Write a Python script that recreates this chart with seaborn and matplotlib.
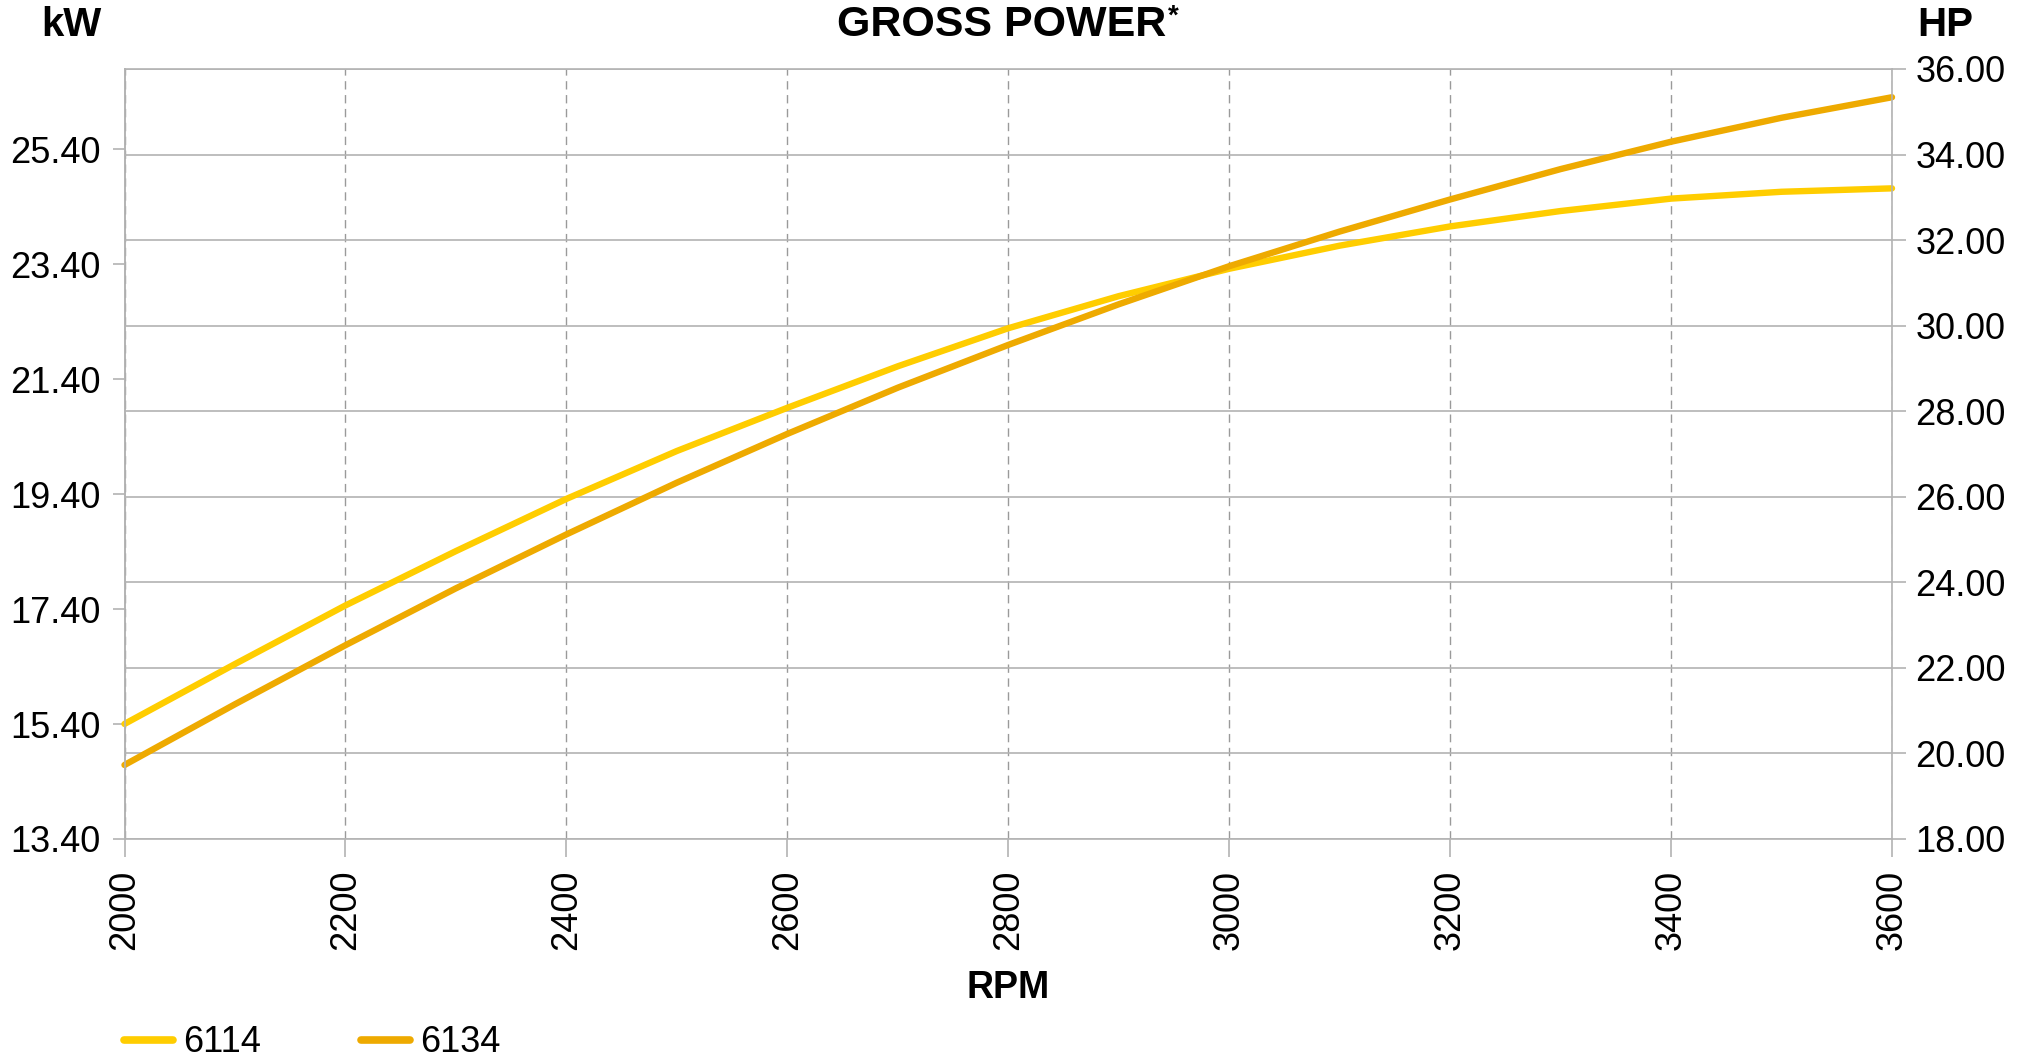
import pandas as pd
import matplotlib
matplotlib.use("Agg")
import matplotlib.pyplot as plt
import seaborn as sns

# engine speed (rpm) and gross power, in HP
rpm = [2000, 2100, 2200, 2300, 2400, 2500, 2600, 2700, 2800,
       2900, 3000, 3100, 3200, 3300, 3400, 3500, 3600]
hp_6114 = [20.69, 22.09, 23.46, 24.73, 25.95, 27.07, 28.08, 29.05, 29.94,
           30.69, 31.33, 31.87, 32.32, 32.68, 32.97, 33.13, 33.21]
hp_6134 = [19.73, 21.15, 22.53, 23.86, 25.12, 26.33, 27.47, 28.55, 29.55,
           30.50, 31.39, 32.20, 32.95, 33.66, 34.30, 34.86, 35.34]
models = ["6114", "6134"]
colors = {"6114": "#FFCD00", "6134": "#EEAA00"}

hp_ticks = [18, 20, 22, 24, 26, 28, 30, 32, 34, 36]
kw_ticks = [13.4, 15.4, 17.4, 19.4, 21.4, 23.4, 25.4]
rpm_ticks = [2000, 2200, 2400, 2600, 2800, 3000, 3200, 3400, 3600]
KW_PER_HP = 13.4 / 18  # left scale starts at 13.40 kW where right one shows 18 HP

df = pd.DataFrame({
    "rpm": rpm + rpm,
    "hp": hp_6114 + hp_6134,
    "model": ["6114"] * len(rpm) + ["6134"] * len(rpm),
})

sns.set_style("white")
plt.rcParams["font.family"] = ["Liberation Sans", "DejaVu Sans"]
plt.rcParams["text.color"] = "black"
plt.rcParams["xtick.labelcolor"] = "black"
plt.rcParams["ytick.labelcolor"] = "black"
grid_c = "#b3b3b3"

fig = plt.figure(figsize=(20.34, 10.64), dpi=100)
ax = fig.add_axes([124.5 / 2034, 1 - 839 / 1064, (1892 - 124.5) / 2034, (839 - 69) / 1064])

sns.lineplot(data=df, x="rpm", y="hp", hue="model", palette=colors,
             linewidth=4.6, ax=ax, legend=False, solid_capstyle="round",
             solid_joinstyle="round")
for ln in ax.lines:
    ln.set_clip_on(False)

ax.set_xlim(2000, 3600)
ax.set_ylim(18, 36)
ax.set_xticks(rpm_ticks)
ax.set_yticks(hp_ticks)
ax.yaxis.tick_right()
ax.yaxis.set_major_formatter(matplotlib.ticker.FormatStrFormatter("%.2f"))
ax.tick_params(axis="y", which="major", right=True, length=10, width=1.2,
               color=grid_c, labelsize=26, pad=7)
ax.tick_params(axis="x", which="major", bottom=True, length=13, width=1.2,
               color=grid_c, labelsize=26, pad=9, labelrotation=90)
ax.set_xlabel("")
ax.set_ylabel("")

ax.grid(axis="y", color=grid_c, linewidth=1.2, linestyle="-")
ax.grid(axis="x", color="#9a9a9a", linewidth=1.0, linestyle=(0, (6, 4)))
ax.set_axisbelow(True)
for s in ax.spines.values():
    s.set_color(grid_c)
    s.set_linewidth(1.2)

sec = ax.secondary_yaxis("left", functions=(lambda h: h * KW_PER_HP,
                                             lambda k: k / KW_PER_HP))
sec.set_yticks(kw_ticks)
sec.yaxis.set_major_formatter(matplotlib.ticker.FormatStrFormatter("%.2f"))
sec.tick_params(axis="y", length=9, width=1.2, color=grid_c, labelsize=26, pad=8)
sec.spines["left"].set_color(grid_c)
sec.spines["left"].set_linewidth(1.2)

# titles and axis names
title = fig.text(1002 / 2034, 1 - 25 / 1064, "GROSS POWER", fontsize=31,
                 fontweight="bold", ha="center", va="center")
ax.annotate("*", xy=(1, 1), xycoords=title, xytext=(1, 1), textcoords="offset points",
            fontsize=20, fontweight="bold", ha="left", va="top")
fig.text(101 / 2034, 1 - 25 / 1064, "kW", fontsize=29, fontweight="bold",
         ha="right", va="center")
fig.text(1917 / 2034, 1 - 25 / 1064, "HP", fontsize=29, fontweight="bold",
         ha="left", va="center")
fig.text(1008 / 2034, 1 - 988 / 1064, "RPM", fontsize=27, fontweight="bold",
         ha="center", va="center")

handles = [plt.Line2D([], [], color=colors[m], linewidth=5.5, solid_capstyle="round")
           for m in models]
ax.legend(handles, models, loc="center left", ncol=2, frameon=False,
          bbox_to_anchor=(124 / 2034, 1 - 1043 / 1064), bbox_transform=fig.transFigure,
          fontsize=26, handlelength=1.35, handletextpad=0.3, columnspacing=2.75,
          borderaxespad=0, borderpad=0)

fig.savefig("out.png", dpi=100)
